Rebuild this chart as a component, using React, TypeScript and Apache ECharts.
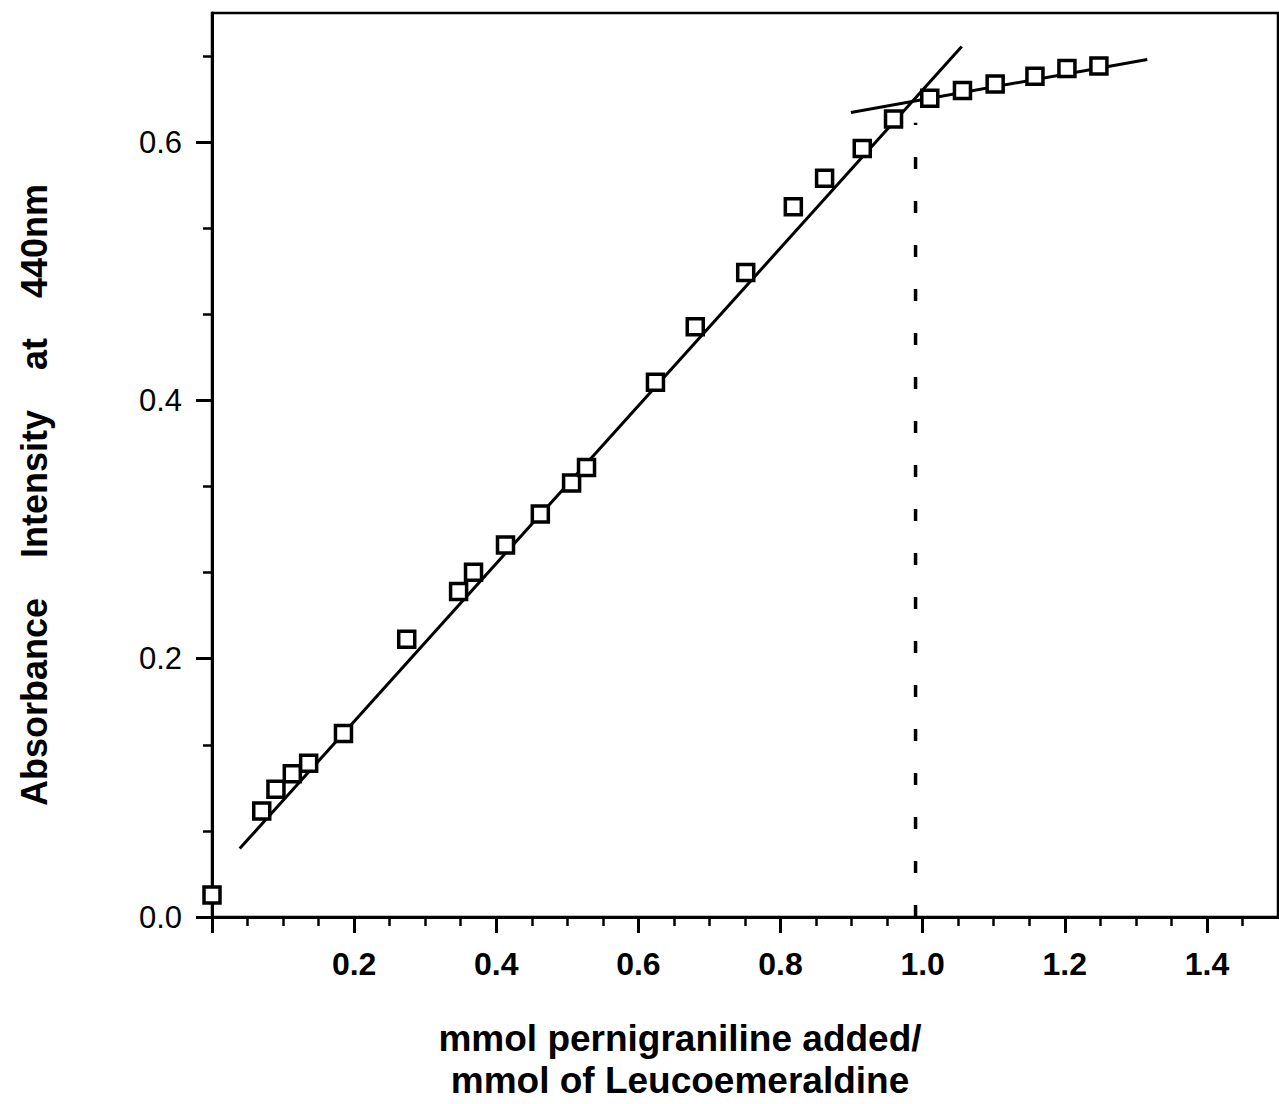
import React, { useEffect, useRef } from "react";
import * as echarts from "echarts";

// Measured points: mmol pernigraniline added / mmol leucoemeraldine vs absorbance at 440 nm
const xValues = [0.0, 0.07, 0.09, 0.113, 0.136, 0.185, 0.274, 0.347, 0.368, 0.413, 0.462, 0.506, 0.527, 0.624, 0.68, 0.751, 0.818, 0.862, 0.915, 0.959, 1.01, 1.056, 1.102, 1.158, 1.203, 1.248];
const yValues = [0.017, 0.082, 0.099, 0.111, 0.119, 0.142, 0.215, 0.252, 0.267, 0.288, 0.312, 0.336, 0.348, 0.414, 0.457, 0.499, 0.55, 0.572, 0.595, 0.618, 0.634, 0.64, 0.645, 0.651, 0.657, 0.659];

// Fitted straight lines (end points)
const fit1X = [0.039, 1.055];
const fit1Y = [0.053, 0.674];
const fit2X = [0.899, 1.316];
const fit2Y = [0.623, 0.664];

// Vertical dashed marker (equivalence point)
const dropX = [0.99, 0.99];
const dropY = [0.0, 0.615];

// Axis ticks / labels
const xMajorTicks = [0, 0.2, 0.4, 0.6, 0.8, 1.0, 1.2, 1.4];
const xLabelValues = [0.2, 0.4, 0.6, 0.8, 1.0, 1.2, 1.4];
const xMinorTicks = [0.05, 0.1, 0.15, 0.25, 0.3, 0.35, 0.45, 0.5, 0.55, 0.65, 0.7, 0.75, 0.85, 0.9, 0.95, 1.05, 1.1, 1.15, 1.25, 1.3, 1.35, 1.45];
const yLabelValues = [0.0, 0.2, 0.4, 0.6];
const yMinorTicks = [1 / 15, 2 / 15, 4 / 15, 5 / 15, 7 / 15, 8 / 15, 10 / 15];

const xTitle = "mmol pernigraniline added/\nmmol of Leucoemeraldine";
const yTitle = "Absorbance    Intensity    at    440nm";

const FONT = "'Liberation Sans', Arial, Helvetica, sans-serif";

export default function App() {
  const ref = useRef<HTMLDivElement>(null);

  useEffect(() => {
    if (!ref.current) return;
    const chart = echarts.init(ref.current, undefined, { renderer: "svg" });
    const pairs = (xs: number[], ys: number[]) => xs.map((x, i) => [x, ys[i]]);

    chart.setOption({
      animation: false,
      backgroundColor: "#ffffff",
      grid: {
        left: 212,
        top: 13,
        width: 1066,
        height: 904,
        outerBoundsMode: "none",
        containLabel: false,
        show: true,
        borderColor: "#000",
        borderWidth: 2.5,
        backgroundColor: "transparent",
      },
      xAxis: [
        {
          type: "value",
          min: 0,
          max: 1.5,
          position: "bottom",
          name: xTitle,
          nameLocation: "middle",
          nameGap: 100,
          nameTextStyle: {
            fontFamily: FONT,
            fontSize: 37,
            fontWeight: "bold",
            color: "#000",
            lineHeight: 42,
            padding: [0, 130, 0, 0],
          },
          axisLine: { show: true, onZero: false, lineStyle: { color: "#000", width: 3 } },
          axisTick: { show: true, length: 16, customValues: xMajorTicks, lineStyle: { color: "#000", width: 3 } },
          axisLabel: {
            customValues: xLabelValues,
            formatter: (v: number) => v.toFixed(1),
            fontFamily: FONT,
            fontSize: 32,
            fontWeight: "bold",
            color: "#000",
            margin: 31,
          },
          splitLine: { show: false },
        },
        {
          type: "value",
          min: 0,
          max: 1.5,
          position: "bottom",
          axisLine: { show: false },
          axisTick: { show: true, length: 9, customValues: xMinorTicks, lineStyle: { color: "#000", width: 2.5 } },
          axisLabel: { show: false },
          splitLine: { show: false },
        },
      ],
      yAxis: [
        {
          type: "value",
          min: 0,
          max: 0.7,
          position: "left",
          name: yTitle,
          nameLocation: "middle",
          nameGap: 160,
          nameRotate: 90,
          nameTextStyle: {
            fontFamily: FONT,
            fontSize: 36,
            fontWeight: "bold",
            color: "#000",
            padding: [0, 60, 0, 0],
          },
          axisLine: { show: true, onZero: false, lineStyle: { color: "#000", width: 3 } },
          axisTick: { show: true, length: 16, customValues: yLabelValues, lineStyle: { color: "#000", width: 3 } },
          axisLabel: {
            customValues: yLabelValues,
            formatter: (v: number) => v.toFixed(1),
            fontFamily: FONT,
            fontSize: 31,
            color: "#000",
            margin: 30,
          },
          splitLine: { show: false },
        },
        {
          type: "value",
          min: 0,
          max: 0.7,
          position: "left",
          axisLine: { show: false },
          axisTick: { show: true, length: 9, customValues: yMinorTicks, lineStyle: { color: "#000", width: 2.5 } },
          axisLabel: { show: false },
          splitLine: { show: false },
        },
      ],
      series: [
        {
          type: "line",
          data: pairs(fit1X, fit1Y),
          showSymbol: false,
          symbol: "none",
          lineStyle: { color: "#000", width: 3 },
          z: 2,
        },
        {
          type: "line",
          data: pairs(fit2X, fit2Y),
          showSymbol: false,
          symbol: "none",
          lineStyle: { color: "#000", width: 3 },
          z: 2,
        },
        {
          type: "line",
          data: pairs(dropX, dropY),
          showSymbol: false,
          symbol: "none",
          lineStyle: { color: "#000", width: 3.5, type: [12, 32] },
          z: 2,
        },
        {
          type: "scatter",
          data: pairs(xValues, yValues),
          symbol: "rect",
          symbolSize: 16,
          itemStyle: { color: "#fff", borderColor: "#000", borderWidth: 3.5, opacity: 1 },
          z: 5,
        },
      ],
    });

    return () => {
      chart.dispose();
    };
  }, []);

  return (
    <div
      ref={ref}
      style={{ position: "absolute", left: 0, top: 0, width: 1279, height: 1104, background: "#fff" }}
    />
  );
}
